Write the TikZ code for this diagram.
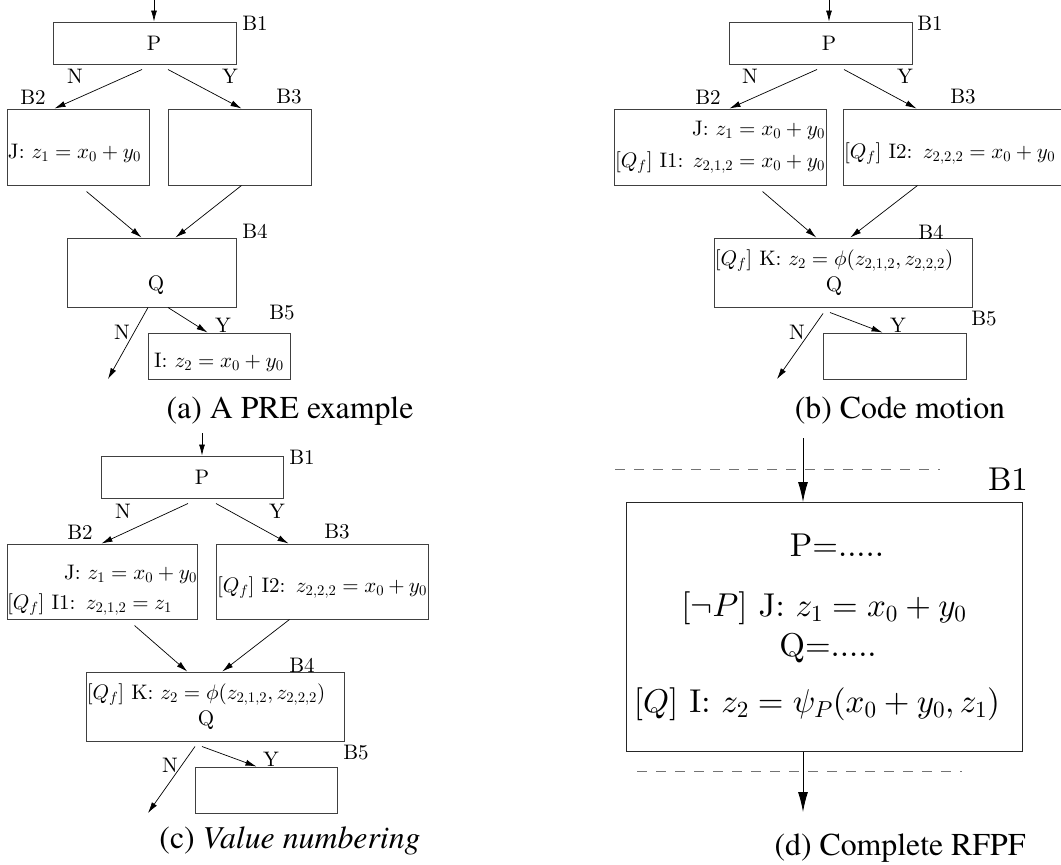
\RequirePackage{fix-cm}
\documentclass[tikz,border=0pt]{standalone}
\usepackage{fontspec}
\setmainfont{lmroman10}[Extension=.otf,UprightFont=*-regular,ItalicFont=*-italic,BoldFont=*-bold]
\newfontfamily\capfont{texgyretermes}[Extension=.otf,UprightFont=*-regular,ItalicFont=*-italic]
\DeclareFontShape{OML}{cmm}{m}{it}{<->cmmi10}{}
\DeclareFontShape{OMS}{cmsy}{m}{n}{<->cmsy10}{}
\DeclareFontShape{OT1}{cmr}{m}{n}{<->cmr10}{}
\usetikzlibrary{arrows.meta,calc}
\newcommand\figfont{\fontsize{21}{26}\selectfont}
\newcommand\bigfigfont{\fontsize{33}{40}\selectfont}

\begin{document}
\begin{tikzpicture}[x=1pt,y=-1pt,
    box/.style={draw=black!75,line width=1pt,inner sep=0pt,font=\figfont},
    low/.style={text height=26pt,text depth=4pt},
    lbl/.style={inner sep=0pt,font=\figfont},
    arr/.style={-{Latex[length=11pt,width=6pt]},line width=0.7pt},
    bigarr/.style={-{Latex[length=20pt,width=10pt]},line width=0.9pt},
    cut/.style={draw=black!55,line width=1pt,dash pattern=on 10pt off 9pt},
    captxt/.style={anchor=base,inner sep=0pt,font=\capfont\fontsize{31.8}{36}\selectfont}
]
\useasboundingbox (0,0) rectangle (1061,865);

% (a)
\node[box,minimum width=183pt,minimum height=42pt] (a1) at (144.5,43) {\hspace*{19pt}P};
\node[box,low,minimum width=142pt,minimum height=76pt,text width=140pt,align=left] (a2) at (78,147) {J: $z_1=x_0+y_0$};
\node[box,minimum width=143pt,minimum height=76pt] (a3) at (239.5,147) {};
\node[box,minimum width=169pt,minimum height=69pt,align=center] (a4) at (151.5,272.5) {\strut\\\hspace*{9pt}Q\strut};
\node[box,low,minimum width=142pt,minimum height=46pt] (a5) at (219,356) {I: $z_2=x_0+y_0$};
\coordinate (a0) at (154,0);
\coordinate (a6) at (108,379);

\node[lbl] (a1b) at (255,23) {B1};
\node[lbl] (a2b) at (33,97) {B2};
\node[lbl] (a3b) at (289,97) {B3};
\node[lbl] (a4b) at (255,231) {B4};
\node[lbl] (a5b) at (282,313) {B5};
\node[lbl] (a1n) at (75,76) {N};
\node[lbl] (a1y) at (230,76) {Y};
\node[lbl] (a4n) at (122,332) {N};
\node[lbl] (a4y) at (223,325) {Y};

\draw[arr] (a0) -- (a0 |- a1.north);
\draw[arr] ($(a1.south)+(-2.5,5)$) -- ($(a2.north west)+(48,0)$);
\draw[arr] ($(a1.south)+(23.5,5)$) -- ($(a3.north west)+(74,0)$);
\draw[arr] ($(a2.south west)+(80,6)$) -- ($(a4.north west)+(75,0)$);
\draw[arr] ($(a3.south west)+(74,0)$) -- ($(a4.north west)+(109,0)$);
\draw[arr] ($(a4.south)+(-3.5,0)$) -- (a6);
\draw[arr] ($(a4.south)+(16.5,0)$) -- ($(a5.north west)+(60,0)$);

\node[captxt] (acap) at (290,418) {(a) A PRE example};

% (b)
\node[box,minimum width=183pt,minimum height=42pt] (b1) at (820.5,43) {\hspace*{17pt}P};
\node[box,minimum width=212pt,minimum height=76pt,align=right] (b2) at (720,147) {J: $z_1=x_0+y_0$\\[6pt]$[Q_f]$ I1: $z_{2,1,2}=x_0+y_0$};
\node[box,low,minimum width=230pt,minimum height=76pt,text width=228pt,align=left] (b3) at (958,147) {$[Q_f]$ I2: $z_{2,2,2}=x_0+y_0$};
\node[box,minimum width=257pt,minimum height=69pt,align=center] (b4) at (843.5,272.5) {$[Q_f]$ K: $z_2=\phi(z_{2,1,2},z_{2,2,2})$\hspace*{19pt}\\Q\hspace*{19pt}};
\node[box,minimum width=143pt,minimum height=46pt] (b5) at (894.5,356) {};
\coordinate (b0) at (829,0);
\coordinate (b6) at (777,379);

\node[lbl] (b1b) at (930,23) {B1};
\node[lbl] (b2b) at (708,97) {B2};
\node[lbl] (b3b) at (963,97) {B3};
\node[lbl] (b4b) at (931,232) {B4};
\node[lbl] (b5b) at (984,319) {B5};
\node[lbl] (b1n) at (750,76) {N};
\node[lbl] (b1y) at (905,76) {Y};
\node[lbl] (b4n) at (797,332) {N};
\node[lbl] (b4y) at (898,325) {Y};

\draw[arr] (b0) -- (b0 |- b1.north);
\draw[arr] ($(b1.south)+(-3.5,5)$) -- ($(b2.north west)+(116,0)$);
\draw[arr] ($(b1.south)+(23.5,5)$) -- ($(b3.north west)+(74,0)$);
\draw[arr] ($(b2.south west)+(149,6)$) -- ($(b4.north west)+(102,0)$);
\draw[arr] ($(b3.south west)+(75,0)$) -- ($(b4.north west)+(136,0)$);
\draw[arr] ($(b4.south)+(-20.5,6)$) -- (b6);
\draw[arr] ($(b4.south)+(-13.5,5)$) -- ($(b5.north west)+(60,0)$);

\node[captxt] (bcap) at (900,418) {(b) Code motion};

% (c)
\node[box,minimum width=182pt,minimum height=42pt] (c1) at (192,477) {\hspace*{20pt}P};
\node[box,minimum width=190pt,minimum height=75pt,text width=190pt,text height=31pt,align=left] (c2) at (102,581.5) {\hspace*{\fill}J: $z_1=x_0+y_0$\\[4pt]$[Q_f]$ I1: $z_{2,1,2}=z_1$};
\node[box,low,minimum width=212pt,minimum height=75pt,text width=210pt,align=left] (c3) at (322,581.5) {$[Q_f]$ I2: $z_{2,2,2}=x_0+y_0$};
\node[box,minimum width=257pt,minimum height=69pt,align=center] (c4) at (215.5,706.5) {$[Q_f]$ K: $z_2=\phi(z_{2,1,2},z_{2,2,2})$\hspace*{19pt}\\Q\hspace*{19pt}};
\node[box,minimum width=142pt,minimum height=46pt] (c5) at (266,790) {};
\coordinate (c0) at (202,433);
\coordinate (c6) at (148,813);

\node[lbl] (c1b) at (302,457) {B1};
\node[lbl] (c2b) at (80,532) {B2};
\node[lbl] (c3b) at (337,532) {B3};
\node[lbl] (c4b) at (302,665) {B4};
\node[lbl] (c5b) at (356,753) {B5};
\node[lbl] (c1n) at (123,511) {N};
\node[lbl] (c1y) at (277,511) {Y};
\node[lbl] (c4n) at (170,765) {N};
\node[lbl] (c4y) at (271,759) {Y};

\draw[arr] (c0) -- (c0 |- c1.north);
\draw[arr] ($(c1.south)+(-4,5)$) -- ($(c2.north west)+(95,0)$);
\draw[arr] ($(c1.south)+(24,5)$) -- ($(c3.north west)+(73,0)$);
\draw[arr] ($(c2.south west)+(128,6)$) -- ($(c4.north west)+(101,0)$);
\draw[arr] ($(c3.south west)+(74,0)$) -- ($(c4.north west)+(136,0)$);
\draw[arr] ($(c4.south)+(-20.5,5)$) -- (c6);
\draw[arr] ($(c4.south)+(-13.5,5)$) -- ($(c5.north west)+(62,0)$);

\node[captxt] (ccap) at (290,848) {(c) \textit{Value numbering}};

% (d)
\node[box,draw=black!85,minimum width=396pt,minimum height=249pt,align=center,font=\bigfigfont] (d1) at (824,627) {\hspace*{26pt}P=.....\\[20pt]$[\neg P]$ J: $z_1=x_0+y_0$\hspace*{28pt}\\[0pt]\hspace*{8pt}Q=.....\\[16pt]$[Q]$ I: $z_2=\psi_P(x_0+y_0,z_1)$\hspace*{14pt}};
\node[lbl,font=\bigfigfont] (d1b) at (1008,479) {B1};
\coordinate (d0) at (803,438);
\coordinate (d9) at (803,812);

\draw[bigarr] (d0) -- (d0 |- d1.north);
\draw[bigarr] (d0 |- d1.south) -- (d9);
\draw[cut] (615,469) -- (940,469);
\draw[cut] (637,771) -- (962,771);

\node[captxt] (dcap) at (900,855) {(d) Complete RFPF};
\end{tikzpicture}
\end{document}
